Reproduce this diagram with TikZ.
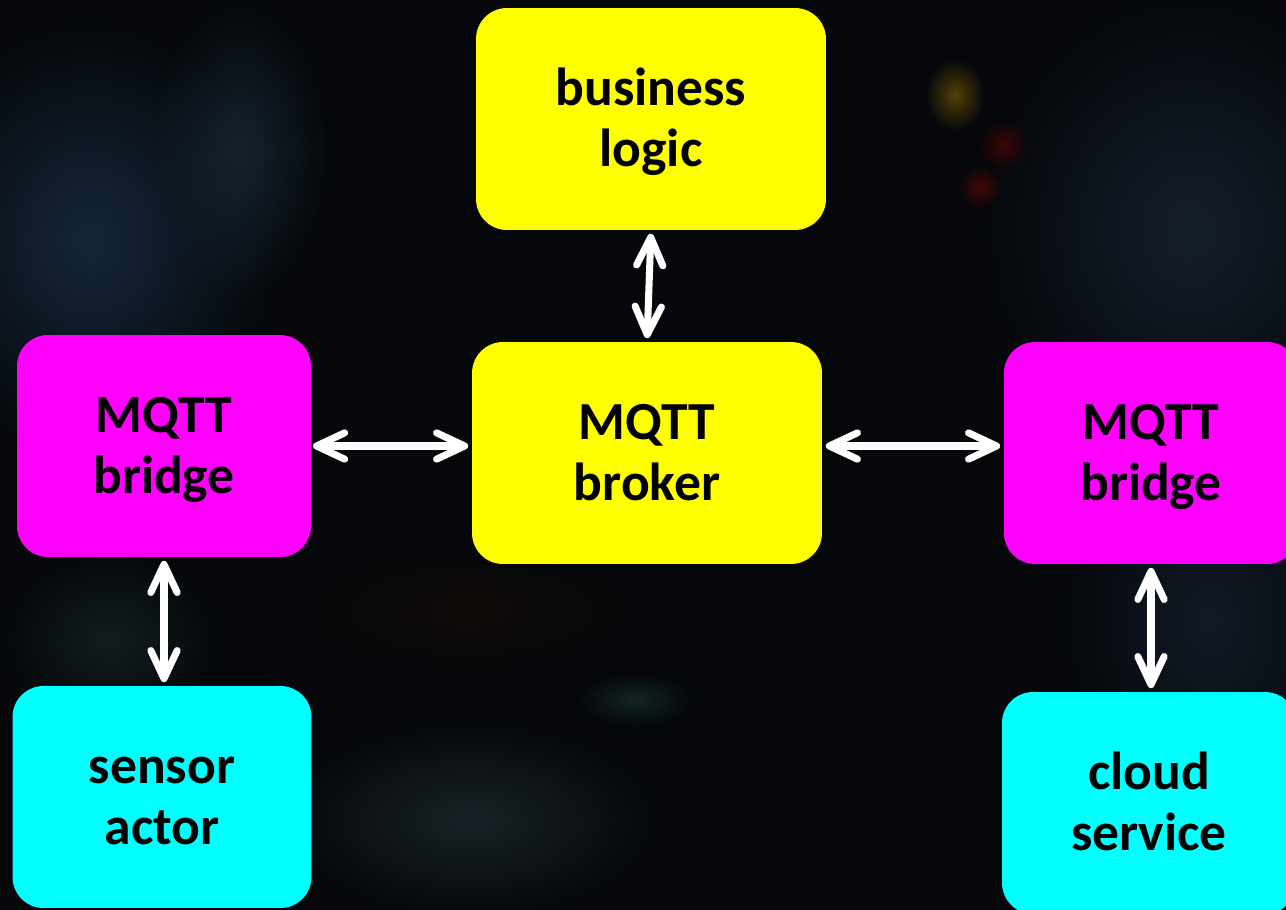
\documentclass[tikz,border=0pt]{standalone}
\usepackage{fontspec}
\setmainfont{Carlito}
\usetikzlibrary{arrows.meta,fadings}

\definecolor{bgdark}{HTML}{05070A}
\definecolor{boxyellow}{HTML}{FFFF00}
\definecolor{boxmagenta}{HTML}{FF00FF}
\definecolor{boxcyan}{HTML}{00FFFF}
% backdrop tints
\definecolor{hazeblue}{HTML}{15273A}
\definecolor{hazeslate}{HTML}{14232F}
\definecolor{hazenavy}{HTML}{141F2C}
\definecolor{hazedeep}{HTML}{111B26}
\definecolor{lampyellow}{HTML}{524008}
\definecolor{lampred}{HTML}{3A0606}
\definecolor{lampcrimson}{HTML}{460808}
\definecolor{hazegrey}{HTML}{182226}
\definecolor{hazeteal}{HTML}{112423}
\definecolor{hazebrown}{HTML}{120B09}
\definecolor{hazemoss}{HTML}{121E1E}

% soft glow for the blurred backdrop
\tikzfading[name=glow, inner color=transparent!0, outer color=transparent!100]

\begin{document}
\begin{tikzpicture}[x=0.02cm, y=-0.02cm,
    box/.style={rounded corners=0.62cm, minimum width=#1, minimum height=4.44cm,
      align=center, text=black, text height=54.5pt, text depth=0pt,
      font=\fontsize{30.5}{35}\selectfont\bfseries},
    box/.default=7cm,
    link/.style={white, line width=4pt, line cap=round,
      {Straight Barb[length=16pt, width=15pt, line cap=round, line join=round]}-{Straight Barb[length=16pt, width=15pt, line cap=round, line join=round]}},
    blob/.style={fill=#1, path fading=glow}]
  \clip (0,0) rectangle (1286,910);
  \fill[bgdark] (0,0) rectangle (1286,910);

  % backdrop
  \fill[blob=hazeblue] (90,240) ellipse (190 and 220);
  \fill[blob=hazeslate] (240,150) ellipse (90 and 150);
  \fill[blob=hazenavy] (1190,230) ellipse (210 and 240);
  \fill[blob=hazedeep] (1210,620) ellipse (150 and 220);
  \fill[blob=lampyellow] (955,95) ellipse (30 and 36);
  \fill[blob=lampred] (1003,145) circle (26);
  \fill[blob=lampcrimson] (980,187) circle (22);
  \fill[blob=hazegrey] (470,820) ellipse (190 and 100);
  \fill[blob=hazeteal] (635,700) ellipse (60 and 28);
  \fill[blob=hazebrown] (470,610) ellipse (160 and 60);
  \fill[blob=hazemoss] (110,640) ellipse (110 and 90);

  % boxes
  \node[box, fill=boxyellow] (logic) at (651,119) {business\\logic};
  \node[box, fill=boxyellow] (broker) at (647,453) {MQTT\\broker};
  \node[box=5.88cm, fill=boxmagenta] (lbridge) at (164,446) {MQTT\\bridge};
  \node[box=5.88cm, fill=boxmagenta] (rbridge) at (1151,453) {MQTT\\bridge};
  \node[box=5.98cm, fill=boxcyan] (sensor) at (162,797) {sensor\\actor};
  \node[box=5.88cm, fill=boxcyan] (cloud) at (1149,803) {cloud\\service};

  % links
  \draw[link, shorten <=2pt, shorten >=2pt] (logic.south) -- (broker.north);
  \draw[link, shorten <=1pt, shorten >=2pt] (lbridge.east) -- (lbridge.east -| broker.west);
  \draw[link, shorten <=2pt, shorten >=2pt] (broker.east |- lbridge.east) -- (rbridge.west |- lbridge.east);
  \draw[link, shorten <=2pt, shorten >=2pt] (lbridge.south) -- (lbridge.south |- sensor.north);
  \draw[link, shorten <=2pt, shorten >=2pt] (rbridge.south) -- (rbridge.south |- cloud.north);
\end{tikzpicture}
\end{document}
